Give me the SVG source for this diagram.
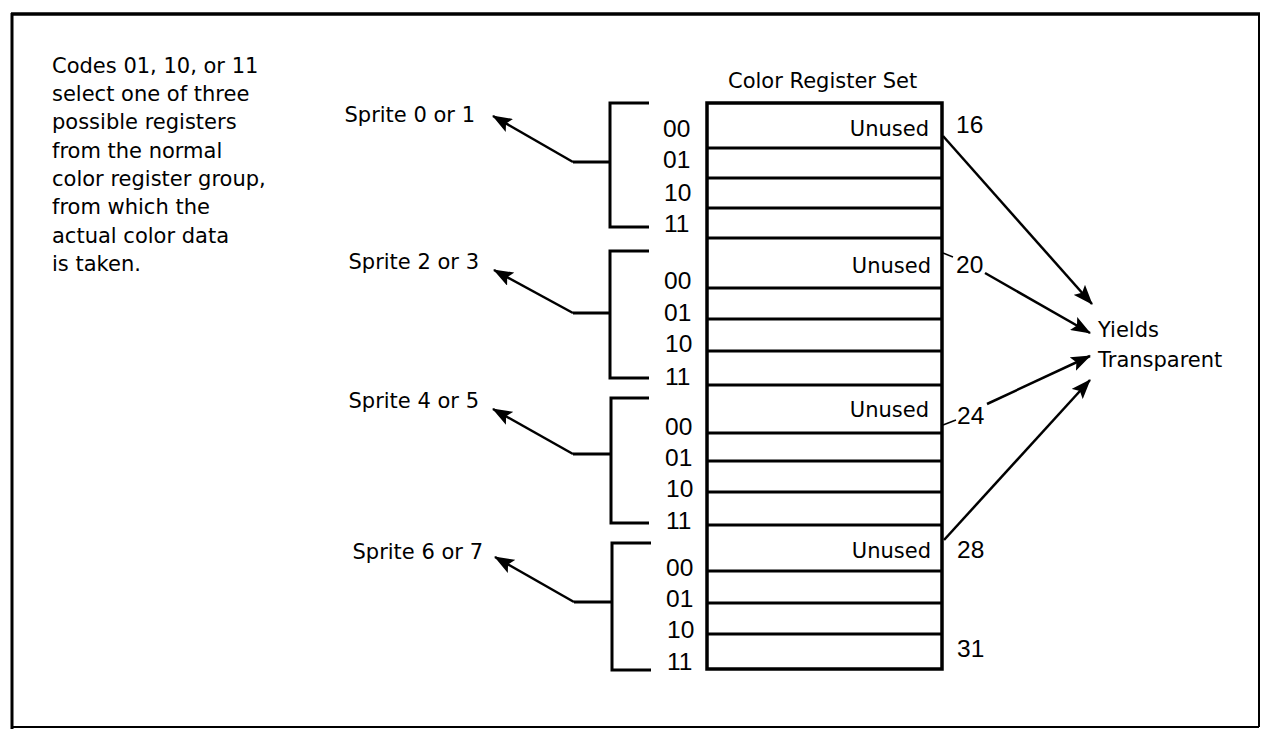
<svg xmlns="http://www.w3.org/2000/svg" width="1270" height="729" viewBox="0 0 1270 729">
<defs>
<marker id="ah" markerWidth="20" markerHeight="15" refX="19" refY="7.5" orient="auto" markerUnits="userSpaceOnUse">
<path d="M0,0 L20,7.5 L0,15 L4,7.5 Z" fill="#000"/>
</marker>
<style>
text{font-family:"DejaVu Sans","Liberation Sans",sans-serif;font-size:21px;fill:#000}
.num{font-family:"Liberation Sans","DejaVu Sans",sans-serif;font-size:24.5px}
.ln{stroke:#000;stroke-width:3;fill:none}
.row{stroke:#000;stroke-width:3}
.ar{stroke:#000;stroke-width:2.5;fill:none;marker-end:url(#ah)}
.thin{stroke:#000;stroke-width:1.5;fill:none}
.end{text-anchor:end}
</style>
</defs>
<rect width="1270" height="729" fill="#fff"/>
<g id="frame">
<line x1="11" y1="14" x2="1260" y2="14" stroke="#000" stroke-width="3.5"/>
<line x1="12" y1="13" x2="12" y2="729" stroke="#000" stroke-width="3"/>
<line x1="1259" y1="14" x2="1259" y2="727" stroke="#000" stroke-width="2"/>
<line x1="12" y1="727" x2="1259" y2="727" stroke="#000" stroke-width="2"/>
</g>
<g id="note">
<text x="52" y="73">Codes 01, 10, or 11</text>
<text x="52" y="101">select one of three</text>
<text x="52" y="129">possible registers</text>
<text x="52" y="158">from the normal</text>
<text x="52" y="186">color register group,</text>
<text x="52" y="214">from which the</text>
<text x="52" y="243">actual color data</text>
<text x="52" y="271">is taken.</text>
</g>
<g id="register-set">
<text x="728" y="88">Color Register Set</text>
<rect x="707" y="103" width="235" height="566" fill="none" stroke="#000" stroke-width="3.5"/>
<line class="row" x1="707" y1="148" x2="942" y2="148"/>
<line class="row" x1="707" y1="178" x2="942" y2="178"/>
<line class="row" x1="707" y1="208" x2="942" y2="208"/>
<line class="row" x1="707" y1="238" x2="942" y2="238"/>
<line class="row" x1="707" y1="288" x2="942" y2="288"/>
<line class="row" x1="707" y1="319" x2="942" y2="319"/>
<line class="row" x1="707" y1="351" x2="942" y2="351"/>
<line class="row" x1="707" y1="385" x2="942" y2="385"/>
<line class="row" x1="707" y1="433" x2="942" y2="433"/>
<line class="row" x1="707" y1="461" x2="942" y2="461"/>
<line class="row" x1="707" y1="492" x2="942" y2="492"/>
<line class="row" x1="707" y1="525" x2="942" y2="525"/>
<line class="row" x1="707" y1="571" x2="942" y2="571"/>
<line class="row" x1="707" y1="603" x2="942" y2="603"/>
<line class="row" x1="707" y1="634" x2="942" y2="634"/>
<text class="end" x="929" y="136">Unused</text>
<text class="end" x="931" y="273">Unused</text>
<text class="end" x="929" y="417">Unused</text>
<text class="end" x="931" y="558">Unused</text>
<text class="num" x="956" y="133">16</text>
<text class="num" x="956" y="273">20</text>
<text class="num" x="957" y="424">24</text>
<text class="num" x="957" y="558">28</text>
<text class="num" x="957" y="657">31</text>
</g>
<g id="group-sprite01">
<text class="end" x="475" y="122">Sprite 0 or 1</text>
<path class="ln" d="M649,103 H610 V227 H649"/>
<text class="num" x="663" y="137">00</text>
<text class="num" x="663" y="168">01</text>
<text class="num" x="664" y="201">10</text>
<text class="num" x="664" y="232">11</text>
</g>
<g id="group-sprite23">
<text class="end" x="479" y="269">Sprite 2 or 3</text>
<path class="ln" d="M649,251 H610 V378 H649"/>
<text class="num" x="664" y="289">00</text>
<text class="num" x="664" y="321">01</text>
<text class="num" x="665" y="352">10</text>
<text class="num" x="665" y="385">11</text>
</g>
<g id="group-sprite45">
<text class="end" x="479" y="408">Sprite 4 or 5</text>
<path class="ln" d="M649,398 H611 V523 H649"/>
<text class="num" x="665" y="435">00</text>
<text class="num" x="665" y="466">01</text>
<text class="num" x="666" y="497">10</text>
<text class="num" x="666" y="529">11</text>
</g>
<g id="group-sprite67">
<text class="end" x="483" y="559">Sprite 6 or 7</text>
<path class="ln" d="M651,543 H612 V670 H651"/>
<text class="num" x="666" y="576">00</text>
<text class="num" x="666" y="607">01</text>
<text class="num" x="667" y="638">10</text>
<text class="num" x="667" y="670">11</text>
</g>
<g id="yields">
<text x="1098" y="337">Yields</text>
<text x="1098" y="367">Transparent</text>
</g>
<g id="connectors">
<line class="ln" x1="573" y1="162" x2="610" y2="162"/>
<line class="ar" x1="573" y1="162" x2="493" y2="116"/>
<line class="ln" x1="573" y1="313" x2="610" y2="313"/>
<line class="ar" x1="573" y1="313" x2="494" y2="270"/>
<line class="ln" x1="573" y1="454" x2="611" y2="454"/>
<line class="ar" x1="573" y1="454" x2="493" y2="409"/>
<line class="ln" x1="574" y1="602" x2="612" y2="602"/>
<line class="ar" x1="574" y1="602" x2="495" y2="557"/>
<line class="ar" x1="943" y1="136" x2="1092" y2="304"/>
<line class="thin" x1="943" y1="253" x2="953" y2="257"/>
<line class="ar" x1="985" y1="273" x2="1090" y2="333"/>
<line class="thin" x1="943" y1="425" x2="956" y2="420"/>
<line class="ar" x1="987" y1="404" x2="1090" y2="356"/>
<line class="ar" x1="944" y1="540" x2="1090" y2="380"/>
</g>
</svg>
